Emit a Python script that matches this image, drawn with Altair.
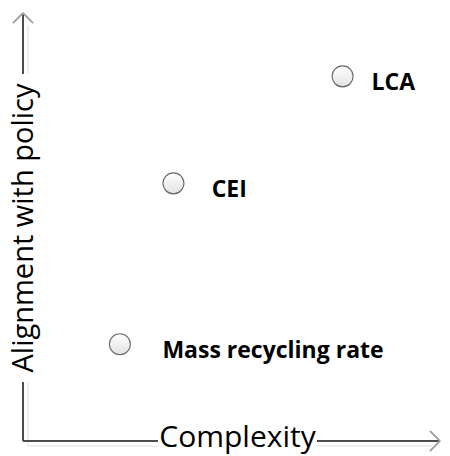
import altair as alt
import pandas as pd

# Data (arbitrary 0-10 scales)
names = ["Mass recycling rate", "CEI", "LCA"]
complexity = [2.28, 3.54, 7.52]
alignment = [2.26, 6.02, 8.52]
label_offsets = [1.0, 0.9, 0.68]  # label start relative to point, in x units

df = pd.DataFrame({"name": names, "x": complexity, "y": alignment, "off": label_offsets})

W, H = 434, 448
X0, X1 = 15, 432   # pixel ends of x axis line
Y0, Y1 = 433, 5    # pixel ends of y axis line

# data scale: 10 units = 425 px (axis arrow is clipped by the page width)
xs = alt.Scale(domain=[0, 10], range=[X0, X0 + 425])
ys = alt.Scale(domain=[0, 10], range=[Y0, Y1])

FONT = "Open Sans"
AXC = "#4a4a4a"
ARC = "#a0a0a0"


def rule(x, x2, y, y2, color, w=1.5):
    return alt.Chart(df).mark_rule(color=color, strokeWidth=w).encode(
        x=alt.value(x), x2=alt.value(x2), y=alt.value(y), y2=alt.value(y2)
    )


# faint shadow of axes
shadow = rule(X0 + 5, X0 + 5, Y1 + 12, Y0 + 5, "#efefef", 1.5) + rule(X0 + 5, X1 - 8, Y0 + 5, Y0 + 5, "#efefef", 1.5)

# axis lines
axes = rule(X0, X0, Y1, Y0, AXC) + rule(X0, X1, Y0, Y0, AXC)

# arrow heads
arrows = (
    rule(X0, X0 - 10, Y1, Y1 + 10, ARC, 1.2)
    + rule(X0, X0 + 10, Y1, Y1 + 10, ARC, 1.2)
    + rule(X1, X1 - 10, Y0, Y0 - 10, ARC, 1.2)
    + rule(X1, X1 - 10, Y0, Y0 + 10, ARC, 1.2)
)

GX0, GX1 = 150, 309
GY0, GY1 = 66, 374

# white gaps behind axis titles
gaps = alt.Chart(df).mark_rect(color="white").encode(
    x=alt.value(GX0), x2=alt.value(GX1), y=alt.value(Y0 - 4), y2=alt.value(Y0 + 7)
) + alt.Chart(df).mark_rect(color="white").encode(
    x=alt.value(X0 - 4), x2=alt.value(X0 + 7), y=alt.value(GY0), y2=alt.value(GY1)
)

title_df = pd.DataFrame({"t": ["Complexity"]})
xtitle = alt.Chart(title_df).mark_text(
    font=FONT, fontSize=30, color="black", align="center", baseline="alphabetic"
).encode(text="t:N", x=alt.value((GX0 + GX1) / 2), y=alt.value(439))

ytitle_df = pd.DataFrame({"t": ["Alignment with policy"]})
ytitle = alt.Chart(ytitle_df).mark_text(
    font=FONT, fontSize=29, color="black", align="center", baseline="alphabetic", angle=270
).encode(text="t:N", x=alt.value(24.5), y=alt.value((GY0 + GY1) / 2))

grad = alt.Gradient(
    gradient="linear", x1=0, y1=0, x2=0, y2=1,
    stops=[alt.GradientStop(offset=0, color="#ffffff"), alt.GradientStop(offset=1, color="#e2e2e2")],
)

points = alt.Chart(df).mark_point(
    shape="circle", size=440, filled=True, fill=grad, stroke="#6a6a6a", strokeWidth=1.1, opacity=1
).encode(x=alt.X("x:Q", scale=xs, axis=None), y=alt.Y("y:Q", scale=ys, axis=None))

labels = alt.Chart(df).transform_calculate(lx="datum.x + datum.off").mark_text(
    font=FONT, fontSize=23, fontWeight="bold", color="black", align="left", baseline="alphabetic", dy=14
).encode(x=alt.X("lx:Q", scale=xs, axis=None), y=alt.Y("y:Q", scale=ys, axis=None), text="name:N")

chart = alt.layer(shadow, axes, arrows, gaps, xtitle, ytitle, points, labels).properties(
    width=W, height=H, padding=0, autosize=alt.AutoSizeParams(type="none"), background="white"
).configure_view(stroke=None)

chart.save("out.html", embed_options={"renderer": "svg", "actions": False})
